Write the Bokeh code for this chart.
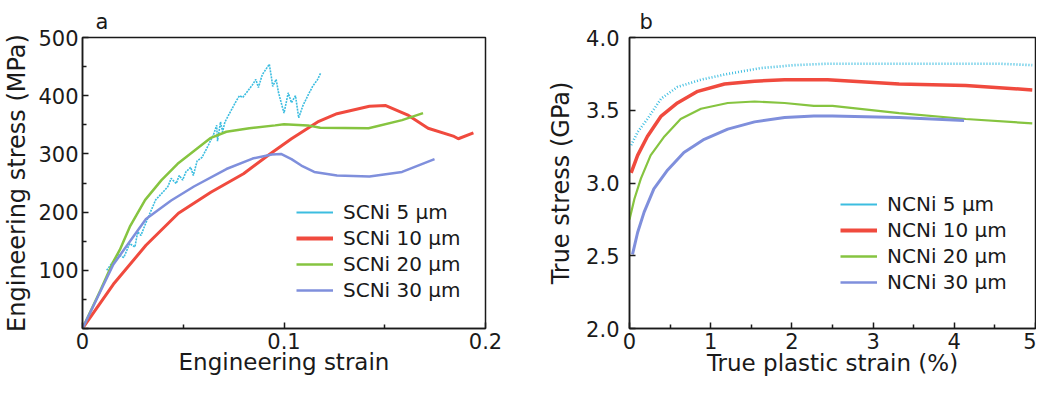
from bokeh.plotting import figure
from bokeh.layouts import row
from bokeh.models import (Legend, LegendItem, FixedTicker, Range1d,
                          CustomJSTickFormatter, ColumnDataSource)
from bokeh.embed import file_html
from bokeh.resources import INLINE

FONT = "DejaVu Sans"
TXT = "#1a1a1a"

# ---------------- panel a : engineering stress-strain ----------------
sc5_strain = [0.012, 0.0177, 0.0205, 0.0234, 0.026, 0.0274, 0.029, 0.0315, 0.0363,
              0.0409, 0.0424, 0.044, 0.0465, 0.048, 0.0497, 0.0513, 0.0537, 0.055,
              0.0569, 0.0593, 0.061, 0.0626, 0.065, 0.0666, 0.067, 0.0685, 0.0695,
              0.0707, 0.0763, 0.0779, 0.0795, 0.082, 0.0844, 0.086, 0.0873, 0.0892,
              0.0927, 0.0937, 0.0944, 0.0961, 0.0973, 0.1, 0.1021, 0.1037, 0.1057,
              0.1073, 0.1094, 0.1118, 0.1142, 0.1167, 0.1182]
sc5_stress = [100, 127, 122, 146, 140, 166, 160, 182, 221,
              238, 244, 258, 249, 263, 255, 269, 277, 263,
              288, 294, 305, 316, 333, 349, 322, 355, 338,
              355, 391, 400, 397, 408, 419, 428, 414, 436,
              454, 433, 416, 428, 405, 370, 405, 388, 400,
              362, 383, 400, 416, 428, 439]

sc10_strain = [0, 0.0153, 0.0315, 0.0476, 0.0637, 0.0799, 0.0927, 0.1037, 0.1167,
               0.1263, 0.1424, 0.1505, 0.1618, 0.1715, 0.1844, 0.1865, 0.194]
sc10_stress = [0, 76, 143, 198, 234, 266, 299, 326, 355,
               369, 382, 383, 366, 344, 330, 326, 336]

sc20_strain = [0, 0.0088, 0.0153, 0.0185, 0.0235, 0.0311, 0.0392, 0.0472, 0.0553,
               0.0634, 0.0714, 0.0828, 0.0956, 0.1, 0.1118, 0.118, 0.142, 0.1586, 0.169]
sc20_stress = [0, 65, 115, 135, 175, 221, 255, 283, 305,
               327, 338, 344, 349, 351, 349, 345, 344, 358, 370]

sc30_strain = [0, 0.0153, 0.0315, 0.044, 0.0553, 0.0714, 0.0844, 0.094, 0.0985,
               0.1037, 0.1086, 0.115, 0.1263, 0.1424, 0.1586, 0.1747]
sc30_stress = [0, 110, 188, 220, 244, 274, 292, 299, 300,
               291, 280, 269, 263, 261, 269, 291]

a_labels = ["SCNi 5 μm", "SCNi 10 μm", "SCNi 20 μm", "SCNi 30 μm"]

# ---------------- panel b : true stress vs true plastic strain ----------------
nc5_strain = [0.02, 0.1, 0.22, 0.39, 0.59, 0.88, 1.21, 1.62, 2.03, 2.44, 2.91, 3.73, 4.55, 4.96]
nc5_stress = [3.26, 3.35, 3.44, 3.58, 3.66, 3.71, 3.75, 3.79, 3.81, 3.82, 3.82, 3.82, 3.82, 3.81]

nc10_strain = [0.02, 0.1, 0.22, 0.39, 0.59, 0.84, 1.17, 1.54, 1.91, 2.44, 3.32, 4.14, 4.96]
nc10_stress = [3.07, 3.19, 3.32, 3.46, 3.55, 3.63, 3.68, 3.70, 3.71, 3.71, 3.68, 3.67, 3.64]

nc20_strain = [0.0, 0.06, 0.14, 0.26, 0.43, 0.63, 0.88, 1.21, 1.54, 1.91, 2.27, 2.5, 3.32, 4.14, 4.96]
nc20_stress = [2.75, 2.89, 3.03, 3.19, 3.32, 3.44, 3.51, 3.55, 3.56, 3.55, 3.53, 3.53, 3.48, 3.44, 3.41]

nc30_strain = [0.037, 0.1, 0.18, 0.30, 0.47, 0.67, 0.92, 1.21, 1.54, 1.91, 2.27, 2.5, 3.32, 4.12]
nc30_stress = [2.51, 2.66, 2.80, 2.96, 3.09, 3.21, 3.30, 3.37, 3.42, 3.45, 3.46, 3.46, 3.45, 3.43]

b_labels = ["NCNi 5 μm", "NCNi 10 μm", "NCNi 20 μm", "NCNi 30 μm"]

COLORS = ["#3cbde0", "#f04a3e", "#86c440", "#7f8fdc"]

H = 381


def base_fig(width, height, xr, yr, bl, br, bt, bb, title, tstand, xstand):
    p = figure(width=width, height=height, x_range=Range1d(*xr), y_range=Range1d(*yr),
               output_backend="svg", toolbar_location=None,
               min_border_left=bl, min_border_right=br, min_border_top=bt,
               min_border_bottom=bb)
    p.xgrid.visible = False
    p.ygrid.visible = False
    p.outline_line_color = TXT
    p.outline_line_width = 1.5
    p.outline_line_alpha = 1
    p.background_fill_color = "white"
    p.border_fill_color = "white"
    p.title.text = title
    p.title.text_font = FONT
    p.title.text_font_size = "21px"
    p.title.text_font_style = "normal"
    p.title.text_color = TXT
    p.title.standoff = tstand
    for ax in (p.xaxis[0], p.yaxis[0]):
        ax.axis_line_color = TXT
        ax.axis_line_width = 1.5
        ax.major_tick_in = 6
        ax.major_tick_out = 0
        ax.minor_tick_in = 4
        ax.minor_tick_out = 0
        ax.major_tick_line_color = TXT
        ax.minor_tick_line_color = TXT
        ax.major_tick_line_width = 1.5
        ax.minor_tick_line_width = 1.5
        ax.major_label_text_font = FONT
        ax.major_label_text_font_size = "21px"
        ax.major_label_text_color = TXT
        ax.axis_label_text_font = FONT
        ax.axis_label_text_font_style = "normal"
        ax.axis_label_text_color = TXT
    p.xaxis[0].axis_label_text_font_size = "23px"
    p.yaxis[0].axis_label_text_font_size = "24px"
    p.xaxis[0].major_label_standoff = 4
    p.xaxis[0].axis_label_standoff = xstand
    return p


def add_legend(p, renderers, labels, loc):
    items = [LegendItem(label=l, renderers=[r]) for l, r in zip(labels, renderers)]
    leg = Legend(items=items, location=loc, orientation="vertical",
                 label_text_font=FONT, label_text_font_size="20px",
                 label_text_color=TXT, glyph_width=37, glyph_height=26,
                 label_height=26, label_standoff=10, spacing=0, padding=0,
                 margin=0, border_line_alpha=0, background_fill_alpha=0)
    p.add_layout(leg)


# ---- panel a
pa = base_fig(522, H, (0, 0.2), (0, 500), 77, 37, 32, 51, "a", 8, -3)
pa.title.offset = 13
pa.xaxis[0].axis_label = "Engineering strain"
pa.yaxis[0].axis_label = "Engineering stress (MPa)"
pa.xaxis[0].ticker = FixedTicker(ticks=[0, 0.1, 0.2], minor_ticks=[0.05, 0.15])
pa.yaxis[0].ticker = FixedTicker(ticks=[0, 100, 200, 300, 400, 500],
                                 minor_ticks=[50, 150, 250, 350, 450])
pa.xaxis[0].formatter = CustomJSTickFormatter(code="return (Math.round(tick*10)/10).toString();")
pa.yaxis[0].formatter = CustomJSTickFormatter(code="return tick == 0 ? '' : tick.toFixed(0);")
pa.yaxis[0].major_label_standoff = 4
pa.yaxis[0].axis_label_standoff = 4

a_series = [(sc5_strain, sc5_stress), (sc10_strain, sc10_stress),
            (sc20_strain, sc20_stress), (sc30_strain, sc30_stress)]
a_widths = [1.6, 3.0, 2.5, 2.5]
a_leg_widths = [2, 4, 2.5, 2.5]
a_leg = []
for i, (xs, ys) in enumerate(a_series):
    src = ColumnDataSource(dict(x=xs, y=ys))
    if i == 0:
        pa.line("x", "y", source=src, color=COLORS[i], line_width=a_widths[i],
                line_dash="2 1")
    else:
        pa.line("x", "y", source=src, color=COLORS[i], line_width=a_widths[i])
    lr = pa.line("x", "y", source=src, color=COLORS[i], line_width=a_leg_widths[i])
    lr.visible = False
    a_leg.append(lr)
add_legend(pa, a_leg, a_labels, (214, 25))

# ---- panel b
pb = base_fig(514, H, (0, 5), (2, 4), 107, 1, 37, 53, "b", 8, -2)
pb.title.offset = 10
pb.xaxis[0].axis_label = "True plastic strain (%)"
pb.yaxis[0].axis_label = "True stress (GPa)"
pb.xaxis[0].ticker = FixedTicker(ticks=[0, 1, 2, 3, 4, 5],
                                 minor_ticks=[0.5, 1.5, 2.5, 3.5, 4.5])
pb.yaxis[0].ticker = FixedTicker(ticks=[2.0, 2.5, 3.0, 3.5, 4.0])
pb.xaxis[0].formatter = CustomJSTickFormatter(code="return tick.toFixed(0);")
pb.yaxis[0].formatter = CustomJSTickFormatter(code="return tick.toFixed(1);")
pb.yaxis[0].major_label_standoff = 10
pb.yaxis[0].axis_label_standoff = 8

b_series = [(nc5_strain, nc5_stress), (nc10_strain, nc10_stress),
            (nc20_strain, nc20_stress), (nc30_strain, nc30_stress)]
b_widths = [2.6, 3.5, 2.2, 3.0]
b_leg_widths = [2, 4, 2.5, 2.5]
b_leg = []
for i, (xs, ys) in enumerate(b_series):
    src = ColumnDataSource(dict(x=xs, y=ys))
    if i == 0:
        pb.line("x", "y", source=src, color=COLORS[i], line_width=b_widths[i],
                line_dash="1 2")
    else:
        pb.line("x", "y", source=src, color=COLORS[i], line_width=b_widths[i])
    lr = pb.line("x", "y", source=src, color=COLORS[i], line_width=b_leg_widths[i])
    lr.visible = False
    b_leg.append(lr)
add_legend(pb, b_leg, b_labels, (211, 33))

layout = row(pa, pb)
open("out.html", "w").write(file_html(layout, INLINE))
